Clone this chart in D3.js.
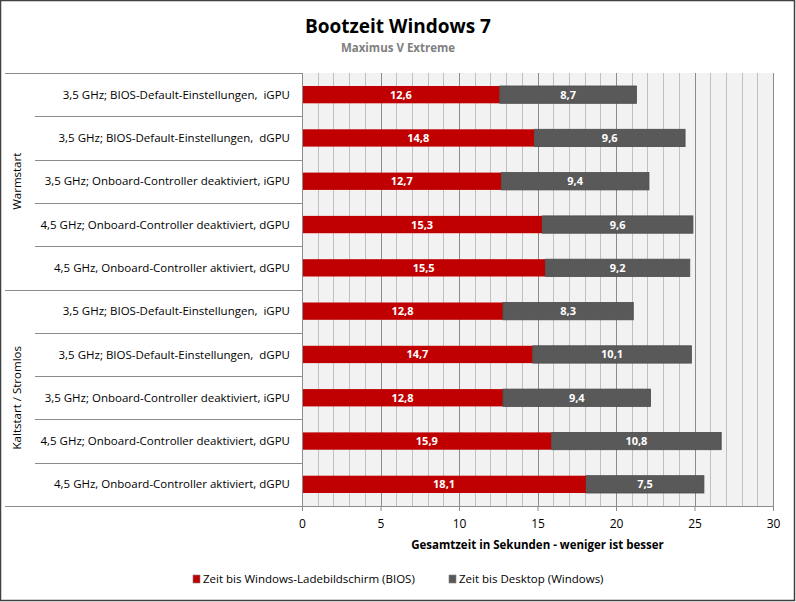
<!DOCTYPE html>
<html>
<head>
<meta charset="utf-8">
<script src="https://cdn.jsdelivr.net/npm/d3@7"></script>
<style>
  html, body { margin: 0; padding: 0; background: #fff; }
  svg text { font-family: "Open Sans", "Noto Sans", sans-serif; white-space: pre; }
</style>
</head>
<body>
<div id="chart"></div>
<script>
// Bootzeit Windows 7 – stacked horizontal bars, two groups of configurations

const groups = ["Warmstart", "Kaltstart / Stromlos"];
const configs = [
  "3,5 GHz; BIOS-Default-Einstellungen,  iGPU",
  "3,5 GHz; BIOS-Default-Einstellungen,  dGPU",
  "3,5 GHz; Onboard-Controller deaktiviert, iGPU",
  "4,5 GHz; Onboard-Controller deaktiviert, dGPU",
  "4,5 GHz, Onboard-Controller aktiviert, dGPU"
];
const seriesNames = ["Zeit bis Windows-Ladebildschirm (BIOS)", "Zeit bis Desktop (Windows)"];
const biosTimes = [12.6, 14.8, 12.7, 15.3, 15.5, 12.8, 14.7, 12.8, 15.9, 18.1];
const windowsTimes = [8.7, 9.6, 9.4, 9.6, 9.2, 8.3, 10.1, 9.4, 10.8, 7.5];
const xTicks = [0, 5, 10, 15, 20, 25, 30];

const rows = [];
groups.forEach((g, gi) => {
  configs.forEach((c, ci) => {
    const i = gi * configs.length + ci;
    rows.push({ key: i, group: g, label: c, bios: biosTimes[i], win: windowsTimes[i] });
  });
});

const width = 796, height = 602;
const margin = { top: 73, right: 23, bottom: 96, left: 302 };
const colors = ["#C00000", "#595959"];

const svg = d3.select("#chart").append("svg")
  .attr("width", width)
  .attr("height", height);

// outer frame
svg.append("rect")
  .attr("x", 0.5).attr("y", 0.5)
  .attr("width", width - 2).attr("height", height - 2)
  .attr("fill", "#fff")
  .attr("stroke", "#404040")
  .attr("stroke-width", 1.5);

const x = d3.scaleLinear()
  .domain([0, 30])
  .range([margin.left, width - margin.right]);

const y = d3.scaleBand()
  .domain(rows.map(d => d.key))
  .range([margin.top, height - margin.bottom])
  .paddingInner(0.6)
  .paddingOuter(0.3);

const step = y.step();
const bottomY = height - margin.bottom;

// plot background
svg.append("rect")
  .attr("x", x(0)).attr("y", margin.top)
  .attr("width", x(30) - x(0)).attr("height", bottomY - margin.top)
  .attr("fill", "#f2f2f2");

// gridlines – minor every 1, major every 5
svg.append("g")
  .selectAll("line")
  .data(d3.range(1, 31))
  .enter().append("line")
  .attr("x1", d => Math.round(x(d)) + 0.5)
  .attr("x2", d => Math.round(x(d)) + 0.5)
  .attr("y1", margin.top)
  .attr("y2", bottomY)
  .attr("stroke", d => d % 5 === 0 ? "#8c8c8c" : "#c0c0c0")
  .attr("stroke-width", 1);

// bars
const barG = svg.append("g");
barG.selectAll("rect.bios")
  .data(rows)
  .enter().append("rect")
  .attr("class", "bios")
  .attr("x", x(0))
  .attr("y", d => y(d.key))
  .attr("width", d => x(d.bios) - x(0))
  .attr("height", y.bandwidth())
  .attr("fill", colors[0]);

barG.selectAll("rect.win")
  .data(rows)
  .enter().append("rect")
  .attr("class", "win")
  .attr("x", d => x(d.bios))
  .attr("y", d => y(d.key))
  .attr("width", d => x(d.bios + d.win) - x(d.bios))
  .attr("height", y.bandwidth())
  .attr("fill", colors[1])
  .attr("stroke", "#4a4a4a")
  .attr("stroke-width", 0.8);

const fmt = v => v.toFixed(1).replace(".", ",");

barG.selectAll("text.lb")
  .data(rows)
  .enter().append("text")
  .attr("x", d => (x(0) + x(d.bios)) / 2)
  .attr("y", d => y(d.key) + y.bandwidth() / 2)
  .attr("dy", "0.36em")
  .attr("text-anchor", "middle")
  .attr("fill", "#fff")
  .style("font-size", "11px")
  .style("font-weight", "bold")
  .text(d => fmt(d.bios));

barG.selectAll("text.lw")
  .data(rows)
  .enter().append("text")
  .attr("x", d => (x(d.bios) + x(d.bios + d.win)) / 2)
  .attr("y", d => y(d.key) + y.bandwidth() / 2)
  .attr("dy", "0.36em")
  .attr("text-anchor", "middle")
  .attr("fill", "#fff")
  .style("font-size", "11px")
  .style("font-weight", "bold")
  .text(d => fmt(d.win));

// x axis
const xAxis = svg.append("g")
  .attr("transform", `translate(0,${bottomY})`)
  .call(d3.axisBottom(x).tickValues(xTicks).tickSize(5).tickPadding(8).tickFormat(d3.format("d")));
xAxis.select(".domain").attr("stroke", "#8c8c8c");
xAxis.selectAll(".tick line").attr("stroke", "#8c8c8c");
xAxis.selectAll(".tick text")
  .style("font-size", "12px")
  .style("font-family", "'Open Sans', sans-serif")
  .attr("fill", "#000");

svg.append("text")
  .attr("x", (x(0) + x(30)) / 2)
  .attr("y", 549)
  .attr("text-anchor", "middle")
  .style("font-size", "11.5px")
  .style("font-weight", "bold")
  .text("Gesamtzeit in Sekunden - weniger ist besser");

// y axis: category table
const tbl = svg.append("g");
tbl.append("line")
  .attr("x1", x(0) + 0.5).attr("x2", x(0) + 0.5)
  .attr("y1", margin.top).attr("y2", bottomY)
  .attr("stroke", "#8c8c8c");

rows.forEach((d, i) => {
  if (i === 0) return;
  const yy = Math.round(margin.top + i * step) + 0.5;
  tbl.append("line")
    .attr("x1", i % configs.length === 0 ? 5 : 35)
    .attr("x2", x(0))
    .attr("y1", yy).attr("y2", yy)
    .attr("stroke", "#8c8c8c");
});
[margin.top, bottomY].forEach(yy => {
  tbl.append("line")
    .attr("x1", 5).attr("x2", x(0))
    .attr("y1", Math.round(yy) + 0.5).attr("y2", Math.round(yy) + 0.5)
    .attr("stroke", "#8c8c8c");
});

tbl.selectAll("text.cat")
  .data(rows)
  .enter().append("text")
  .attr("class", "cat")
  .attr("x", 290)
  .attr("y", d => y(d.key) + y.bandwidth() / 2)
  .attr("dy", "0.36em")
  .attr("text-anchor", "end")
  .style("font-size", "11.5px")
  .attr("fill", "#000")
  .text(d => d.label);

groups.forEach((g, gi) => {
  const y0 = margin.top + gi * configs.length * step;
  const yc = y0 + configs.length * step / 2;
  tbl.append("text")
    .attr("transform", `translate(21,${yc}) rotate(-90)`)
    .attr("text-anchor", "middle")
    .style("font-size", "11.5px")
    .attr("fill", "#000")
    .text(g);
});

// titles
svg.append("text")
  .attr("x", 398)
  .attr("y", 33)
  .attr("text-anchor", "middle")
  .style("font-size", "19px")
  .style("font-weight", "bold")
  .text("Bootzeit Windows 7");

svg.append("text")
  .attr("x", 398)
  .attr("y", 52)
  .attr("text-anchor", "middle")
  .style("font-size", "11.5px")
  .style("font-weight", "bold")
  .attr("fill", "#808080")
  .text("Maximus V Extreme");

// legend
const legendX = [193, 449];
const legend = svg.append("g");
seriesNames.forEach((s, i) => {
  legend.append("rect")
    .attr("x", legendX[i]).attr("y", 575)
    .attr("width", 7).attr("height", 8)
    .attr("fill", colors[i])
    .attr("stroke", "#7f7f7f")
    .attr("stroke-width", 0.6);
  legend.append("text")
    .attr("x", legendX[i] + 10)
    .attr("y", 579)
    .attr("dy", "0.36em")
    .style("font-size", "11.5px")
    .attr("fill", "#000")
    .text(s);
});
</script>
</body>
</html>
